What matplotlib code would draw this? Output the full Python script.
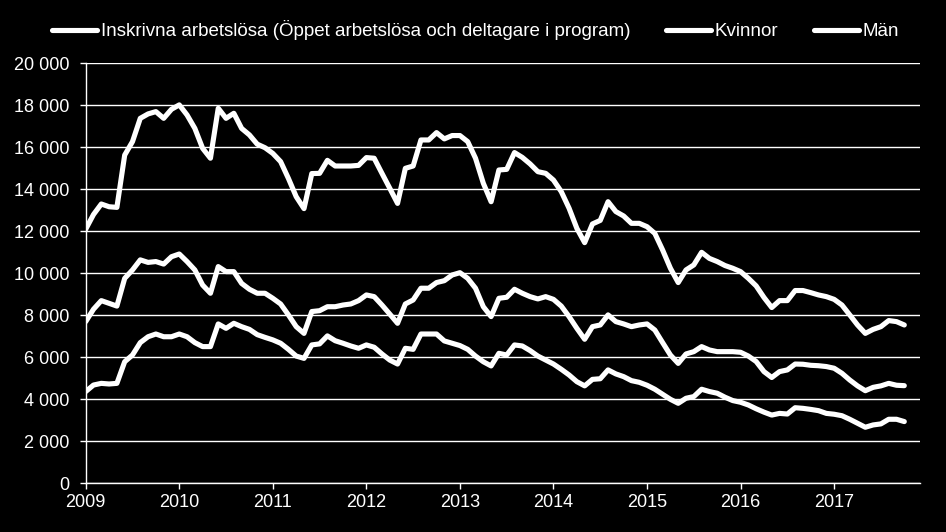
import numpy as np
import matplotlib
matplotlib.use("Agg")
import matplotlib.pyplot as plt
from matplotlib.ticker import FuncFormatter

plt.rcParams['font.family'] = ['Liberation Sans', 'DejaVu Sans']

# monthly data, Jan 2009 - Oct 2017
start_year = 2009

total = [12100, 12800, 13300, 13170, 13140, 15630, 16270, 17380, 17590, 17700, 17380, 17810,
         18020, 17540, 16900, 15950, 15480, 17860, 17380, 17620, 16900, 16590, 16150, 15980,
         15710, 15320, 14520, 13650, 13080, 14750, 14760, 15380, 15110, 15110, 15110, 15140,
         15510, 15480, 14760, 14050, 13330, 15000, 15110, 16350, 16350, 16700, 16400, 16560,
         16560, 16270, 15480, 14290, 13410, 14920, 14950, 15750, 15520, 15210, 14840, 14760,
         14440, 13890, 13100, 12140, 11460, 12350, 12520, 13410, 12940, 12730, 12380, 12380,
         12220, 11900, 11110, 10240, 9560, 10160, 10400, 11000, 10710, 10560, 10370, 10240,
         10080, 9760, 9400, 8850, 8370, 8700, 8700, 9180, 9180, 9080, 8970, 8890,
         8760, 8490, 8020, 7540, 7140, 7330, 7460, 7750, 7700, 7540]

man = [7700, 8290, 8700, 8570, 8440, 9760, 10160, 10640, 10520, 10560, 10440, 10790,
       10920, 10560, 10160, 9440, 9050, 10320, 10080, 10080, 9520, 9240, 9050, 9050,
       8810, 8540, 8020, 7460, 7140, 8180, 8220, 8410, 8410, 8490, 8540, 8700,
       8970, 8890, 8490, 8060, 7620, 8540, 8730, 9290, 9290, 9560, 9650, 9920,
       10030, 9760, 9290, 8410, 7940, 8810, 8860, 9240, 9050, 8890, 8780, 8890,
       8760, 8440, 7940, 7380, 6860, 7460, 7540, 8020, 7700, 7590, 7460, 7540,
       7590, 7300, 6700, 6110, 5710, 6160, 6270, 6510, 6350, 6270, 6270, 6270,
       6240, 6060, 5800, 5320, 5040, 5320, 5400, 5680, 5670, 5620, 5600, 5560,
       5480, 5240, 4920, 4640, 4410, 4570, 4640, 4760, 4670, 4650]

kvinnor = [4370, 4680, 4760, 4730, 4760, 5790, 6110, 6700, 6980, 7110, 6980, 6980,
           7110, 6980, 6700, 6510, 6510, 7590, 7380, 7620, 7460, 7330, 7080, 6950,
           6830, 6670, 6380, 6060, 5950, 6590, 6640, 7020, 6790, 6670, 6540, 6430,
           6590, 6480, 6160, 5870, 5680, 6430, 6380, 7110, 7110, 7110, 6780, 6670,
           6560, 6380, 6060, 5790, 5590, 6190, 6110, 6590, 6540, 6320, 6060, 5870,
           5680, 5430, 5160, 4840, 4640, 4950, 4980, 5400, 5210, 5080, 4890, 4810,
           4670, 4480, 4240, 4000, 3810, 4050, 4130, 4480, 4370, 4290, 4100, 3940,
           3860, 3730, 3550, 3390, 3250, 3330, 3300, 3600, 3570, 3520, 3460, 3330,
           3290, 3220, 3050, 2860, 2670, 2780, 2830, 3050, 3050, 2940]

labels = ["Inskrivna arbetslösa (Öppet arbetslösa och deltagare i program)", "Kvinnor", "Män"]
year_ticks = list(range(2009, 2018))
y_ticks = list(range(0, 20001, 2000))

x = start_year + np.arange(len(total)) / 12.0

fig = plt.figure(figsize=(9.46, 5.32), dpi=100, facecolor='black')
ax = fig.add_axes([0.0906, 0.0915, 0.9724 - 0.0906, 0.881 - 0.0915])
ax.set_facecolor('black')

line_kw = dict(color='white', linewidth=3.7, solid_joinstyle='round', solid_capstyle='round')
ax.plot(x, total, label=labels[0], **line_kw)
ax.plot(x, kvinnor, label=labels[1], **line_kw)
ax.plot(x, man, label=labels[2], **line_kw)

ax.set_xlim(start_year, start_year + 107 / 12.0)
ax.set_ylim(0, 20000)
ax.set_xticks(year_ticks)
ax.set_xticklabels([str(yr) for yr in year_ticks])
ax.set_yticks(y_ticks)
ax.yaxis.set_major_formatter(FuncFormatter(lambda v, p: f"{int(v):,}".replace(",", " ")))

ax.grid(axis='y', color='white', linewidth=1.0)
ax.set_axisbelow(True)
for side in ['top', 'right']:
    ax.spines[side].set_visible(False)
ax.spines['left'].set_color('white')
ax.spines['bottom'].set_color('white')
ax.spines['left'].set_linewidth(1.0)
ax.spines['bottom'].set_linewidth(1.0)

ax.tick_params(axis='x', colors='white', labelsize=13, length=4, width=1, direction='out', pad=4)
ax.tick_params(axis='y', colors='white', labelsize=13, length=4.5, width=1, direction='out', pad=7)

leg = fig.legend(loc='center', bbox_to_anchor=(0.5026, 1 - 30.5 / 532), ncol=3, frameon=False,
                 fontsize=13.5, handlelength=2.4, handletextpad=0.2, columnspacing=1.9,
                 borderaxespad=0)
for t in leg.get_texts():
    t.set_color('white')

fig.savefig('out.png', dpi=100, facecolor='black')
